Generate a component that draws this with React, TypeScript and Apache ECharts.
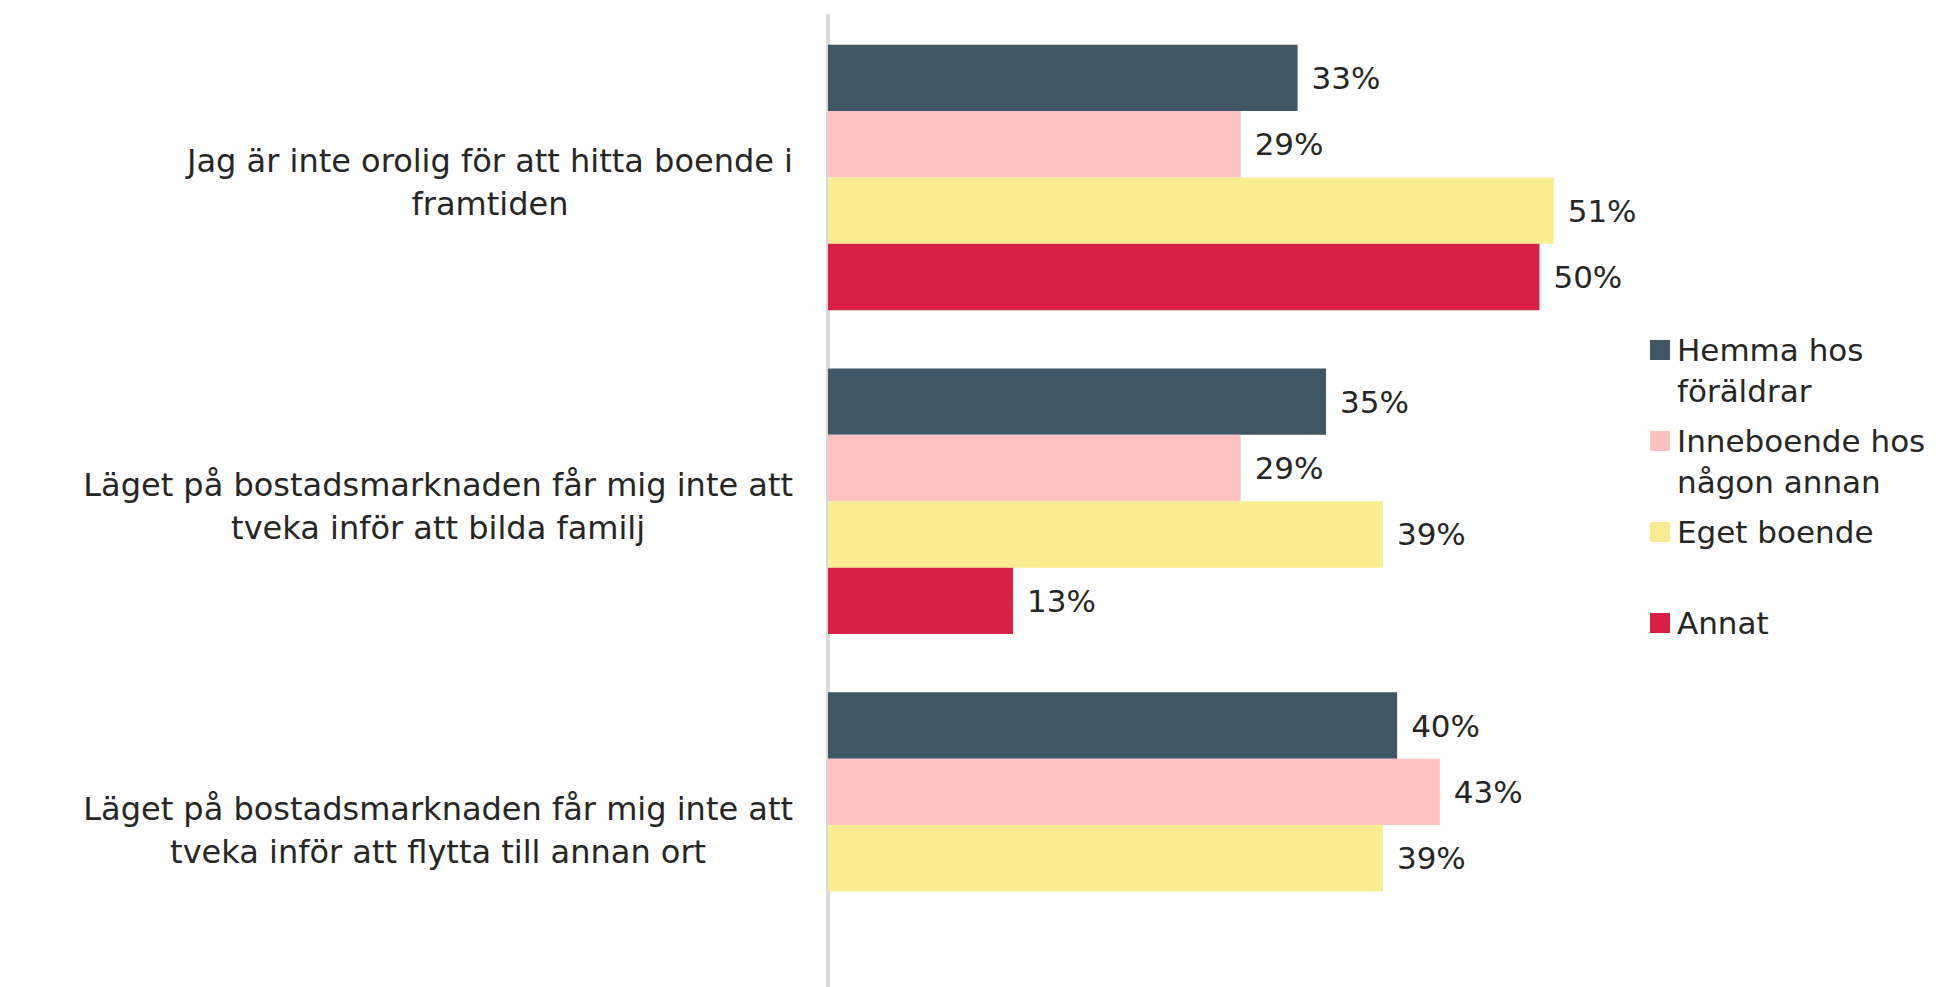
import React, { useEffect, useRef } from "react";
import * as echarts from "echarts";

const categories = [
  "Jag är inte orolig för att hitta boende i\nframtiden",
  "Läget på bostadsmarknaden får mig inte att\ntveka inför att bilda familj",
  "Läget på bostadsmarknaden får mig inte att\ntveka inför att flytta till annan ort",
];
const seriesNames = [
  "Hemma hos\nföräldrar",
  "Inneboende hos\nnågon annan",
  "Eget boende",
  "Annat",
];
const hemma = [33, 35, 40];
const inneboende = [29, 29, 43];
const eget = [51, 39, 39];
const annat: (number | null)[] = [50, 13, null];

const colors = ["#3f5666", "#fdc1c0", "#faed91", "#d91f43"];
const FONT = "DejaVu Sans";
const TEXT = "#262626";

export default function App() {
  const ref = useRef<HTMLDivElement>(null);
  useEffect(() => {
    if (!ref.current) return;
    const chart = echarts.init(ref.current, undefined, { renderer: "svg" });
    const seriesData = [hemma, inneboende, eget, annat];
    chart.setOption({
      animation: false,
      color: colors,
      textStyle: { fontFamily: FONT },
      grid: { left: 828, top: 15.5, width: 996, height: 981 },
      legend: {
        orient: "vertical",
        left: 1650,
        top: 288.5,
        padding: 0,
        itemGap: -32,
        itemWidth: 20,
        itemHeight: 20,
        icon: "rect",
        selectedMode: false,
        data: seriesNames,
        textStyle: {
          fontFamily: FONT,
          fontSize: 31,
          lineHeight: 41,
          color: TEXT,
          rich: {
            t: { fontFamily: FONT, fontSize: 31, lineHeight: 41, color: TEXT, padding: [0, 0, 0, 2] },
          },
        },
        formatter: (name: string) => {
          const lines = name.split("\n").map((l) => `{t|${l}}`);
          if (lines.length === 1) return `\n${lines[0]}\n`;
          return `\n${lines.join("\n")}`;
        },
      },
      xAxis: {
        type: "value",
        min: 0,
        max: 70,
        show: false,
      },
      yAxis: {
        type: "category",
        inverse: true,
        data: categories,
        axisLine: { show: true, lineStyle: { color: "#dadada", width: 4 } },
        axisTick: { show: false },
        splitLine: { show: false },
        axisLabel: {
          margin: 35,
          padding: [10, 0, 0, 0],
          fontFamily: FONT,
          fontSize: 32,
          lineHeight: 43,
          color: TEXT,
          formatter: (v: string) =>
            v
              .split("\n")
              .map((l) => `{c|${l}}`)
              .join("\n"),
          rich: {
            c: { align: "center", fontFamily: FONT, fontSize: 32, lineHeight: 43, color: TEXT },
          },
        },
      },
      series: seriesNames.map((name, i) => ({
        name,
        type: "bar",
        data: seriesData[i],
        barGap: "0%",
        barCategoryGap: "18%",
        label: {
          show: true,
          position: "right",
          distance: 14,
          fontFamily: FONT,
          fontSize: 31,
          color: TEXT,
          formatter: (p: any) => `${p.value}%`,
        },
      })),
    });
    return () => chart.dispose();
  }, []);
  return (
    <div
      ref={ref}
      style={{ position: "absolute", left: 0, top: 0, width: 1952, height: 987, background: "#fff" }}
    />
  );
}
